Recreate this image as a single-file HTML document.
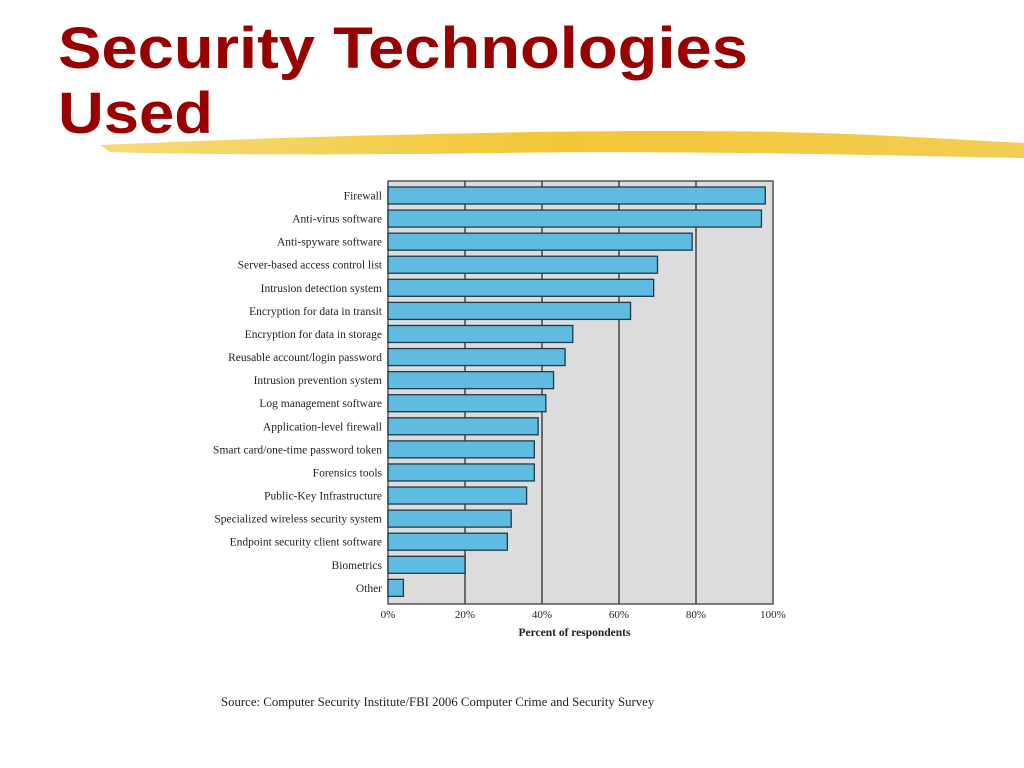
<!DOCTYPE html>
<html><head><meta charset="utf-8"><style>
html,body{margin:0;padding:0;background:#fff;}
svg{display:block;font-family:"Liberation Serif",serif;}
</style></head><body>
<svg id="c" width="1024" height="768" viewBox="0 0 1024 768">
<defs>
<linearGradient id="hl" x1="0" x2="1" y1="0" y2="0">
<stop offset="0" stop-color="#f5d76a"/><stop offset="0.5" stop-color="#f0c020"/><stop offset="1" stop-color="#f2c840"/>
</linearGradient>
</defs>
<path d="M100,145 C300,136 600,128 780,132 C880,134 960,140 1024,143 L1024,158 C900,156 700,150 500,153 C350,155 200,155 110,152 Z" fill="url(#hl)" opacity="0.9"/>
<text x="58" y="68" font-family="'Liberation Sans Narrow','Liberation Sans',sans-serif" font-weight="bold" font-size="58" fill="#990000" textLength="690" lengthAdjust="spacingAndGlyphs">Security Technologies</text>
<text x="58" y="133" font-family="'Liberation Sans Narrow','Liberation Sans',sans-serif" font-weight="bold" font-size="58" fill="#990000" textLength="155" lengthAdjust="spacingAndGlyphs">Used</text>
<g id="chart"></g>
<text x="221" y="706" font-size="12.8" fill="#222">Source: Computer Security Institute/FBI 2006 Computer Crime and Security Survey</text>
</svg>
<script>
const categories=["Firewall","Anti-virus software","Anti-spyware software","Server-based access control list","Intrusion detection system","Encryption for data in transit","Encryption for data in storage","Reusable account/login password","Intrusion prevention system","Log management software","Application-level firewall","Smart card/one-time password token","Forensics tools","Public-Key Infrastructure","Specialized wireless security system","Endpoint security client software","Biometrics","Other"];
const values=[98,97,79,70,69,63,48,46,43,41,39,38,38,36,32,31,20,4];
const tickValues=[0,20,40,60,80,100];
const tickLabels=["0%","20%","40%","60%","80%","100%"];
(function(){
const NS="http://www.w3.org/2000/svg";
const g=document.getElementById("chart");
const x0=388,x1=773,yTop=181,yBottom=604,step=23.08,firstC=195.5,bh=17;
const xs=v=>x0+(x1-x0)*v/100;
const yc=i=>firstC+i*step;
function el(t,a){const e=document.createElementNS(NS,t);for(const k in a)e.setAttribute(k,a[k]);g.appendChild(e);return e;}
const bg=el("rect",{x:x0,y:yTop,width:x1-x0,height:yBottom-yTop,fill:"#dcdcdc",stroke:"#555","stroke-width":1.5});


tickValues.forEach((v,i)=>{
  if(v>0&&v<100){const l=el("line",{x1:xs(v),x2:xs(v),y1:yTop,y2:yBottom,stroke:"#444","stroke-width":1.5});
  
  }
  const t=el("text",{x:xs(v),y:618,"text-anchor":"middle","font-size":11,fill:"#222"});
  t.textContent=tickLabels[i];
  
  
});
categories.forEach((c,i)=>{
  const r=el("rect",{x:x0,y:yc(i)-bh/2,width:xs(values[i])-x0,height:bh,fill:"#5fbce0",stroke:"#1f3a4a","stroke-width":1.3});
  
  
  const t=el("text",{x:382,y:yc(i)+4,"text-anchor":"end","font-size":11.5,fill:"#222"});
  t.textContent=c;
  
  
});
const at=el("text",{x:(x0+x1)/2-6,y:636,"text-anchor":"middle","font-size":11.5,"font-weight":"bold",fill:"#222"});
at.textContent="Percent of respondents";


})();
</script>
</body></html>
